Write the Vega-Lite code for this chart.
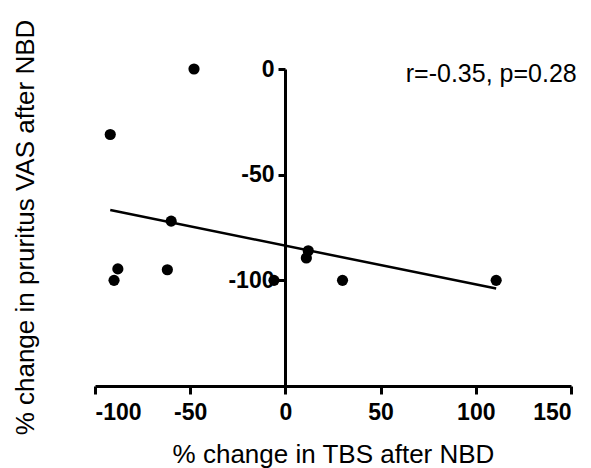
{
  "$schema": "https://vega.github.io/schema/vega-lite/v6.json",
  "width": 476,
  "height": 317,
  "autosize": "none",
  "padding": {"left": 95, "top": 69, "right": 20, "bottom": 82},
  "background": "white",
  "config": {
    "view": {"stroke": null},
    "font": "Liberation Sans",
    "axis": {
      "grid": false,
      "domainColor": "black",
      "domainWidth": 3,
      "tickColor": "black",
      "tickWidth": 3,
      "tickSize": 8,
      "labelColor": "black",
      "labelFont": "Liberation Sans",
      "labelFontWeight": "bold",
      "labelFontSize": 23,
      "labelExpr": "(datum.value < 0 ? '-' : '') + abs(datum.value)",
      "titleColor": "black",
      "titleFont": "Liberation Sans",
      "titleFontWeight": "normal",
      "titleFontSize": 26
    }
  },
  "datasets": {
    "pts": [
      {"tbs": -48, "vas": 0},
      {"tbs": -92, "vas": -31},
      {"tbs": -60, "vas": -72},
      {"tbs": -88, "vas": -94.6},
      {"tbs": -90, "vas": -100},
      {"tbs": -62, "vas": -95},
      {"tbs": -6, "vas": -100},
      {"tbs": 12, "vas": -86},
      {"tbs": 11, "vas": -89.4},
      {"tbs": 30, "vas": -100},
      {"tbs": 110.7, "vas": -100}
    ],
    "note": [
      {"tbs": 153, "vas": -6, "label": "r=-0.35, p=0.28"}
    ]
  },
  "layer": [
    {
      "data": {"name": "pts"},
      "mark": {"type": "point", "filled": true, "shape": "circle", "size": 125, "color": "black", "opacity": 1, "clip": false},
      "encoding": {
        "x": {
          "field": "tbs", "type": "quantitative",
          "scale": {"domain": [-100, 150], "nice": false, "zero": false},
          "axis": {
            "values": [-100, -50, 0, 50, 100, 150],
            "labelPadding": 7,
            "title": "% change in TBS after NBD",
            "titleX": 238,
            "titleY": 76,
            "titleAlign": "center",
            "titleBaseline": "alphabetic"
          }
        },
        "y": {
          "field": "vas", "type": "quantitative",
          "scale": {"domain": [-150, 0], "nice": false, "zero": false},
          "axis": {
            "values": [0, -50, -100],
            "offset": -190,
            "tickSize": 7,
            "labelPadding": 4,
            "title": "% change in pruritus VAS after NBD",
            "titleX": -251.5,
            "titleY": 158,
            "titleAngle": -90,
            "titleAlign": "center",
            "titleBaseline": "alphabetic"
          }
        }
      }
    },
    {
      "data": {"name": "pts"},
      "transform": [{"regression": "vas", "on": "tbs"}],
      "mark": {"type": "line", "color": "black", "strokeWidth": 2.5, "clip": false},
      "encoding": {
        "x": {"field": "tbs", "type": "quantitative"},
        "y": {"field": "vas", "type": "quantitative"}
      }
    },
    {
      "data": {"name": "note"},
      "mark": {"type": "text", "align": "right", "baseline": "alphabetic", "fontSize": 25, "font": "Liberation Sans", "color": "black", "clip": false},
      "encoding": {
        "x": {"field": "tbs", "type": "quantitative"},
        "y": {"field": "vas", "type": "quantitative"},
        "text": {"field": "label"}
      }
    }
  ]
}
